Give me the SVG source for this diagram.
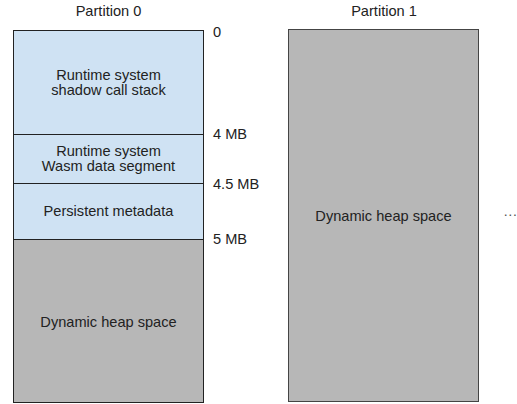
<svg xmlns="http://www.w3.org/2000/svg" width="517" height="404" viewBox="0 0 517 404">
<style>
text{font-family:"Liberation Sans",Arial,sans-serif;font-size:14.6px;fill:#222}
.c{text-anchor:middle}
.blue{fill:#cfe2f3;stroke:#222;stroke-width:1}
.gray{fill:#b7b7b7;stroke:#222;stroke-width:1}
</style>
<rect width="517" height="404" fill="#fff"/>
<g id="partition0">
<text class="c" x="108.5" y="15.5">Partition 0</text>
<g id="shadow-stack">
<rect class="blue" x="13.5" y="30.5" width="190" height="104"/>
<text class="c" x="108.5" y="80">Runtime system</text>
<text class="c" x="108.5" y="95">shadow call stack</text>
</g>
<g id="data-segment">
<rect class="blue" x="13.5" y="134.5" width="190" height="49"/>
<text class="c" x="108.5" y="155.5">Runtime system</text>
<text class="c" x="108.5" y="171">Wasm data segment</text>
</g>
<g id="metadata">
<rect class="blue" x="13.5" y="183.5" width="190" height="56"/>
<text class="c" x="108.5" y="216">Persistent metadata</text>
</g>
<g id="heap0">
<rect class="gray" x="13.5" y="239.5" width="190" height="163"/>
<text class="c" x="108.5" y="327">Dynamic heap space</text>
</g>
<g id="offsets">
<text x="213" y="37">0</text>
<text x="213" y="138.5">4 MB</text>
<text x="213" y="188.5">4.5 MB</text>
<text x="213" y="243.5">5 MB</text>
</g>
</g>
<g id="partition1">
<text class="c" x="384" y="15.5">Partition 1</text>
<g id="heap1">
<rect class="gray" x="288.5" y="29.5" width="190" height="372" style="stroke:#444"/>
<text class="c" x="383.5" y="221">Dynamic heap space</text>
</g>
</g>
<g id="more">
<text x="503" y="216" style="fill:#555">…</text>
</g>
<g id="connectors"/>
</svg>
